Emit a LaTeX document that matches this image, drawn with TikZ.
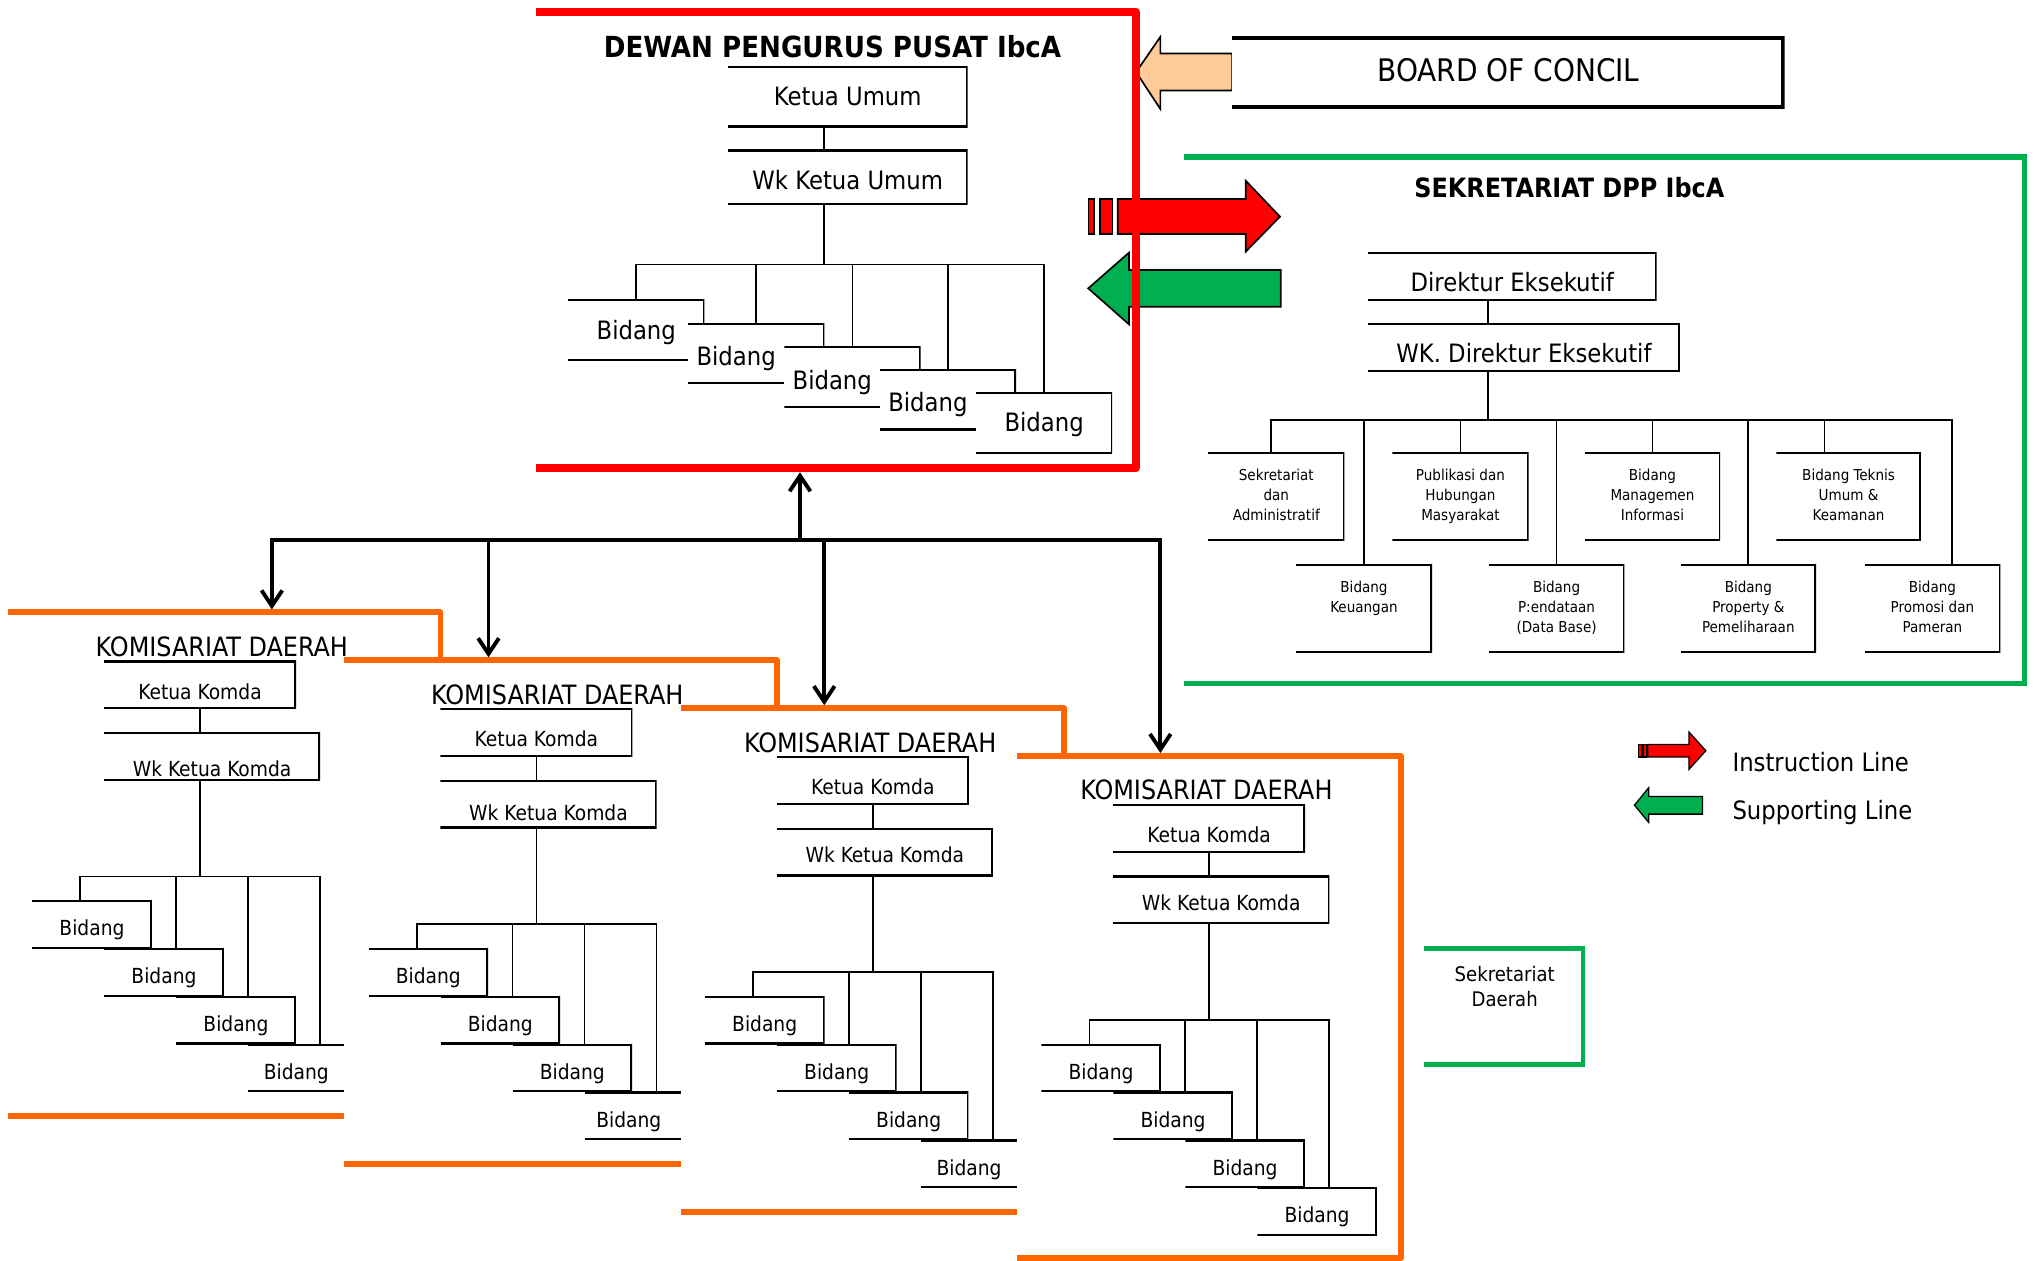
\documentclass[tikz,border=0pt]{standalone}
\usepackage{fontspec}
\setmainfont{DejaVu Sans Condensed}
\usetikzlibrary{
        arrows.meta,
        calc,
        positioning
    }
\definecolor{dppred}{RGB}{255,0,0}
\definecolor{sgreen}{RGB}{0,176,80}
\definecolor{kdorange}{RGB}{255,102,0}
\definecolor{peach}{RGB}{255,204,153}
\tikzset{
  ubox/.style={fill=white, inner sep=0pt, outer sep=0pt, anchor=north west, text depth=0pt,
    path picture={\draw[ulines] (path picture bounding box.north west) -| (path picture bounding box.south east) -- (path picture bounding box.south west);}},
  ulines/.style={line width=2.6pt},
  dbox/.style={ubox, font=\fontsize{19.5}{23}\selectfont, text height=14.2pt},
  dbid/.style={dbox, minimum width=105pt, minimum height=47pt},
  dlab/.style={anchor=center, inner sep=0pt, xshift=-15.5pt, yshift=-2.5pt, font=\fontsize{19.5}{23}\selectfont, text height=14.2pt, text depth=0pt},
  kbox/.style={ubox, font=\fontsize{16}{19}\selectfont, minimum height=37pt, text height=21.7pt},
  kbid/.style={ubox, font=\fontsize{16}{19}\selectfont, minimum width=92.2pt, minimum height=36.9pt, text height=17.3pt},
  klab/.style={anchor=center, inner sep=0pt, xshift=#1, font=\fontsize{16}{19}\selectfont, text height=17.3pt, text depth=0pt},
  sbox/.style={ubox, minimum height=68.2pt},
  stxt/.style={anchor=north, yshift=-13.2pt, align=center, inner sep=0pt, font=\fontsize{11.6}{15.2}\selectfont},
  sdtxt/.style={anchor=north, yshift=-15.1pt, align=center, inner sep=0pt, font=\fontsize{15.5}{19.6}\selectfont},
  ttl/.style={anchor=base, inner sep=0pt, font=\bfseries\fontsize{22.4}{26}\selectfont},
  sttl/.style={anchor=base, inner sep=0pt, font=\bfseries\fontsize{20.5}{25}\selectfont},
  kttl/.style={anchor=base, inner sep=0pt, font=\fontsize{20.5}{25}\selectfont},
  leg/.style={anchor=base west, inner sep=0pt, font=\fontsize{19.5}{23}\selectfont},
  con/.style={line width=1.3pt, line cap=rect},
  redf/.style={draw=dppred, line width=6pt, line join=round},
  greenf/.style={draw=sgreen, line width=4pt},
  kdf/.style={draw=kdorange, fill=white, line width=4.4pt, line join=round},
  blockarr/.style={fill=#1, draw=black, line width=1.3pt},
  bus/.style={line width=3pt, line cap=rect},
  arr/.style={bus, ->, shorten >=2.2pt}
}

\begin{document}
\begin{tikzpicture}[x=1pt,y=-1pt,>={Straight Barb[length=12pt,width=16pt]}]
\useasboundingbox (0,0) rectangle (1568,972);

\filldraw[blockarr=peach] (875.8,55.6) -- (894.5,28.4) |- (949.9,41.3) |- (894.5,69.8) -- (894.5,84) -- cycle;
\filldraw[blockarr=dppred] (839,153.4) rectangle (843.3,180.4) (848,153.4) rectangle (857.5,180.4);
\filldraw[blockarr=dppred] (861.6,153.4) -- (960.3,153.4) -- (960.3,139.3) -- (986.7,167) -- (960.3,194) -- (960.3,180.4) -- (861.6,180.4) -- cycle;
\filldraw[blockarr=sgreen] (838.9,222.3) -- (870.3,194.8) |- (987.3,208.2) |- (870.3,236.4) -- (870.3,250) -- cycle;

\draw[redf] (413,9) -| (875.5,361) -- (413,361) coordinate (dppb);
\node[ttl] (dpp) at (641.8,44) {DEWAN PENGURUS PUSAT IbcA};
\node[dbox, minimum width=185pt, minimum height=47pt] (ku) at (561,51) {Ketua Umum};
\node[dbox, minimum width=185pt, minimum height=42pt, text height=18.2pt, below=17.6pt of ku.south west, anchor=north west] (wu) {Wk Ketua Umum};
\node[dbid] (b1) at (438,231) {Bidang};
\node[dbid, label={[dlab]center:Bidang}] (b2) at (530.5,249) {};
\node[dbid, label={[dlab]center:Bidang}] (b3) at (604.6,267) {};
\node[dbid, label={[dlab]center:Bidang}] (b4) at (678.3,284.5) {};
\node[dbid] (b5) at (752.4,302.4) {Bidang};
\coordinate (dj) at (635,204);
\draw[con] (ku.south -| dj) -- (wu.north -| dj) (wu.south -| dj) -- (dj);
\draw[con] (b1.north) |- (dj) -| (b5.north);
\draw[con] (b2.north) |- (dj) (b3.north) |- (dj) (b4.north) |- (dj);

\node[ubox, ulines/.style={line width=6pt}, minimum width=425.9pt, minimum height=56.1pt,
      font=\fontsize{24}{29}\selectfont, text height=14.1pt] (boc) at (949.9,27.9) {BOARD OF CONCIL};

\draw[greenf] (913,121) -| (1560.5,527) -- (913,527);
\node[sttl] (sek) at (1209.8,152.3) {SEKRETARIAT DPP IbcA};
\node[dbox, minimum width=222.5pt, minimum height=37.1pt, text height=23.2pt] (de) at (1054.5,194.4) {Direktur Eksekutif};
\node[dbox, minimum width=240.5pt, minimum height=37.1pt, text height=23.2pt, below=18.1pt of de.south west, anchor=north west] (wde) {WK. Direktur Eksekutif};
\node[sbox, minimum width=105pt, label={[stxt]north:Sekretariat\\dan\\Administratif}] (u1) at (931.4,348.5) {};
\node[sbox, minimum width=104.9pt, label={[stxt]north:Publikasi dan\\Hubungan\\Masyarakat}] (u2) at (1073.4,348.5) {};
\node[sbox, minimum width=104.5pt, label={[stxt]north:Bidang\\Managemen\\Informasi}] (u3) at (1221.6,348.5) {};
\node[sbox, minimum width=111.3pt, label={[stxt]north:Bidang Teknis\\Umum \&\\Keamanan}] (u4) at (1369.4,348.5) {};
\node[sbox, minimum width=105pt, label={[stxt]north:Bidang\\Keuangan}] (l1) at (999,434.8) {};
\node[sbox, minimum width=104.5pt, label={[stxt]north:{Bidang\\P:endataan\\(Data Base)}}] (l2) at (1147.7,434.8) {};
\node[sbox, minimum width=104.5pt, label={[stxt]north:Bidang\\Property \&\\Pemeliharaan}] (l3) at (1295.5,434.8) {};
\node[sbox, minimum width=104.6pt, label={[stxt]north:Bidang\\Promosi dan\\Pameran}] (l4) at (1437.4,434.8) {};
\coordinate (sj) at (1147.3,323.9);
\draw[con] (de.south -| sj) -- (wde.north -| sj) (wde.south -| sj) -- (sj);
\draw[con] ($(u1.north)+(-4,0)$) |- (sj) -| ($(l4.north)+(15,0)$);
\draw[con] (u2.north) |- (sj) (u3.north) |- (sj) ($(u4.north)+(-18.6,0)$) |- (sj);
\draw[con] (l1.north) |- (sj) (l2.north) |- (sj) (l3.north) |- (sj);

\filldraw[kdf] (6.2,472) coordinate (kf1) -| (339.5,860.5) -- (6.2,860.5);
\node[kttl] (kt1) at (171,506) {KOMISARIAT DAERAH};
\node[kbox, minimum width=148pt] (kk1) at (80.2,509.5) {Ketua Komda};
\node[kbox, minimum width=166.6pt, text height=31.7pt, below=18pt of kk1.south west, anchor=north west] (kw1) {Wk Ketua Komda};
\node[kbid] (kb11) at (24.8,694.2) {Bidang};
\node[kbid] (kb12) at (80.3,731.1) {Bidang};
\node[kbid] (kb13) at (135.8,768) {Bidang};
\node[kbid, label={[klab=-9pt]center:Bidang}] (kb14) at (191.3,804.9) {};
\coordinate (kj1) at (154.2,675.6);
\draw[con] (kk1.south) -- (kw1.north -| kk1.south) (kw1.south -| kj1) -- (kj1);
\draw[con] ($(kb11.north)+(-9,0)$) |- (kj1) -| ($(kb14.north)+(9.4,0)$);
\draw[con] ($(kb12.north)+(9.4,0)$) |- (kj1) ($(kb13.north)+(9.4,0)$) |- (kj1);

\begin{scope}[shift={(259.3,36.9)}]
\filldraw[kdf] (6.2,472) coordinate (kf2) -| (339.7,860.5) -- (6.2,860.5);
\node[kttl] (kt2) at (170.3,506) {KOMISARIAT DAERAH};
\node[kbox, minimum width=148pt] (kk2) at (80.2,509.5) {Ketua Komda};
\node[kbox, minimum width=166.6pt, text height=25.7pt, below=18pt of kk2.south west, anchor=north west] (kw2) {Wk Ketua Komda};
\node[kbid] (kb21) at (24.8,694.2) {Bidang};
\node[kbid] (kb22) at (80.3,731.1) {Bidang};
\node[kbid] (kb23) at (135.8,768) {Bidang};
\node[kbid, label={[klab=-12pt]center:Bidang}] (kb24) at (191.3,804.9) {};
\coordinate (kj2) at (154.2,675.6);
\draw[con] (kk2.south) -- (kw2.north -| kk2.south) (kw2.south -| kj2) -- (kj2);
\draw[con] ($(kb21.north)+(-9,0)$) |- (kj2) -| ($(kb24.north)+(9.4,0)$);
\draw[con] ($(kb22.north)+(9.4,0)$) |- (kj2) ($(kb23.north)+(9.4,0)$) |- (kj2);
\end{scope}

\begin{scope}[shift={(518.6,73.8)}]
\filldraw[kdf] (6.2,472) coordinate (kf3) -| (301.5,860.5) -- (6.2,860.5);
\node[kttl] (kt3) at (152.2,506) {KOMISARIAT DAERAH};
\node[kbox, minimum width=148pt] (kk3) at (80.2,509.5) {Ketua Komda};
\node[kbox, minimum width=166.6pt, text height=15.7pt, below=18pt of kk3.south west, anchor=north west] (kw3) {Wk Ketua Komda};
\node[kbid] (kb31) at (24.8,694.2) {Bidang};
\node[kbid] (kb32) at (80.3,731.1) {Bidang};
\node[kbid] (kb33) at (135.8,768) {Bidang};
\node[kbid, label={[klab=-9pt]center:Bidang}] (kb34) at (191.3,804.9) {};
\coordinate (kj3) at (154.2,675.6);
\draw[con] (kk3.south) -- (kw3.north -| kk3.south) (kw3.south -| kj3) -- (kj3);
\draw[con] ($(kb31.north)+(-9,0)$) |- (kj3) -| ($(kb34.north)+(9.4,0)$);
\draw[con] ($(kb32.north)+(9.4,0)$) |- (kj3) ($(kb33.north)+(9.4,0)$) |- (kj3);
\end{scope}

\begin{scope}[shift={(777.9,110.7)}]
\filldraw[kdf] (6.2,472) coordinate (kf4) -| (301.9,859.2) -- (6.2,859.2);
\node[kttl] (kt4) at (152.1,506) {KOMISARIAT DAERAH};
\node[kbox, minimum width=148pt] (kk4) at (80.2,509.5) {Ketua Komda};
\node[kbox, minimum width=166.6pt, text height=15.7pt, below=18pt of kk4.south west, anchor=north west] (kw4) {Wk Ketua Komda};
\node[kbid] (kb41) at (24.8,694.2) {Bidang};
\node[kbid] (kb42) at (80.3,731.1) {Bidang};
\node[kbid] (kb43) at (135.8,768) {Bidang};
\node[kbid] (kb44) at (191.3,804.9) {Bidang};
\coordinate (kj4) at (154.2,675.6);
\draw[con] (kk4.south) -- (kw4.north -| kk4.south) (kw4.south -| kj4) -- (kj4);
\draw[con] ($(kb41.north)+(-9,0)$) |- (kj4) -| ($(kb44.north)+(9.4,0)$);
\draw[con] ($(kb42.north)+(9.4,0)$) |- (kj4) ($(kb43.north)+(9.4,0)$) |- (kj4);
\end{scope}

\coordinate (a1) at (209.6,416.3);
\coordinate (a2) at (376.6,416.3);
\coordinate (a3) at (635.4,416.3);
\coordinate (a4) at (894.5,416.3);
\coordinate (up) at (616.7,416.3);
\draw[bus] (a1) -- (a4);
\draw[arr, shorten >=3pt] (up) -- (up |- dppb);
\draw[arr] (a1) -- (a1 |- kf1);
\draw[arr] (a2) -- (a2 |- kf2);
\draw[arr] (a3) -- (a3 |- kf3);
\draw[arr] (a4) -- (a4 |- kf4);

\filldraw[blockarr=dppred, line width=1pt] (1263,574) rectangle (1265.2,583.5) (1266.6,574) rectangle (1269,583.5);
\filldraw[blockarr=dppred, line width=1pt] (1270.3,574) -- (1302,574) -- (1302,564.3) -- (1315,578.7) -- (1302,593.1) -- (1302,583.5) -- (1270.3,583.5) -- cycle;
\filldraw[blockarr=sgreen, line width=1pt] (1260,620.7) -- (1271,607.2) |- (1312.4,614) |- (1271,627.6) -- (1271,634) -- cycle;
\node[leg] (il) at (1335.4,595.1) {Instruction Line};
\node[leg] (sl) at (1335.4,632.1) {Supporting Line};

\node[ubox, ulines/.style={sgreen, line width=7pt}, minimum width=124.1pt, minimum height=92.5pt,
      label={[sdtxt]north:Sekretariat\\Daerah}] (sd) at (1097.9,729.5) {};
\end{tikzpicture}
\end{document}
